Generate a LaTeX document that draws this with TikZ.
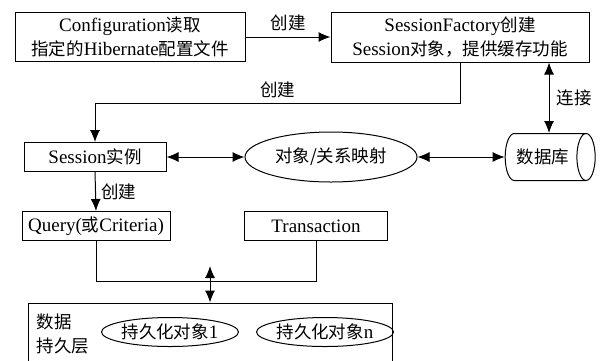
\documentclass[tikz,border=0pt]{standalone}
\usepackage{fontspec}
\setmainfont{Liberation Serif}
\newfontfamily\cjk{Noto Sans CJK SC}[Scale=0.92]
\newcommand{\zh}[1]{{\cjk #1}}
\usetikzlibrary{arrows.meta, shapes.geometric, positioning}

\begin{document}
\begin{tikzpicture}[x=1pt, y=-1pt, >={Latex[length=12pt,width=10pt]}, line width=1pt,
    every node/.style={font=\fontsize{19}{24}\selectfont},
    box/.style={draw, rectangle, inner sep=1pt, align=center},
    oval/.style={draw, ellipse, inner sep=0pt}]
  \useasboundingbox (0,0) rectangle (601,360);
  \clip (0,0) rectangle (601,360);

  % top row
  \node[box, minimum width=230pt, minimum height=49pt] (config) at (130,37)
      {Configuration\zh{读取}\\\zh{指定的}Hibernate\zh{配置文件}};
  \node[box, minimum width=258pt, minimum height=50pt] (factory) at (460,37)
      {SessionFactory\zh{创建}\\Session\zh{对象，提供缓存功能}};
  \draw[->] (config.east) -- node[above=2pt]{\zh{创建}} (factory.west);

  % middle row
  \node[box, minimum width=142pt, minimum height=29pt] (session) at (95,157) {Session\zh{实例}};
  \node[oval, minimum width=172pt, minimum height=50pt] (orm) at (331,157) {\zh{对象/关系映射}};
  \node[draw, cylinder, shape aspect=0.8, minimum height=90pt, minimum width=47pt] (db) at (543,157) {\zh{数据库}};
  \draw[->] (factory.south) -- ++(0,41) -| node[pos=0.25, above=2pt]{\zh{创建}} (session.north);
  \draw[<->] (session.east) -- (orm.west);
  \draw[<->] (orm.east) -- (db.west);
  \draw[<->] ([xshift=6pt]db.north) -- node[right=4pt]{\zh{连接}} ([xshift=6pt]db.north |- factory.south);

  % lower row
  \node[box, minimum width=148pt, minimum height=29pt] (query) at (96,226) {Query(\zh{或}Criteria)};
  \node[box, minimum width=143pt, minimum height=29pt] (trans) at (316,226) {Transaction};
  \draw[->] (session.south) -- node[right=2pt]{\zh{创建}} (query.north);
  \draw (query.south) -- ++(0,40) -| (trans.south);
  \coordinate (join) at (210,266);

  % persistence layer
  \node[draw, minimum width=364pt, minimum height=70pt] (layer) at (210,338) {};
  \node[anchor=west, align=left] (lbl) at (33,334) {\zh{数据}\\\zh{持久层}};
  \node[oval, minimum width=126pt, minimum height=29pt] (obj1) at (170,332) {\zh{持久化对象}1};
  \node[oval, minimum width=127pt, minimum height=29pt] (objn) at (325,332) {\zh{持久化对象}n};
  \draw[<->] (join) -- (layer.north);
\end{tikzpicture}
\end{document}
